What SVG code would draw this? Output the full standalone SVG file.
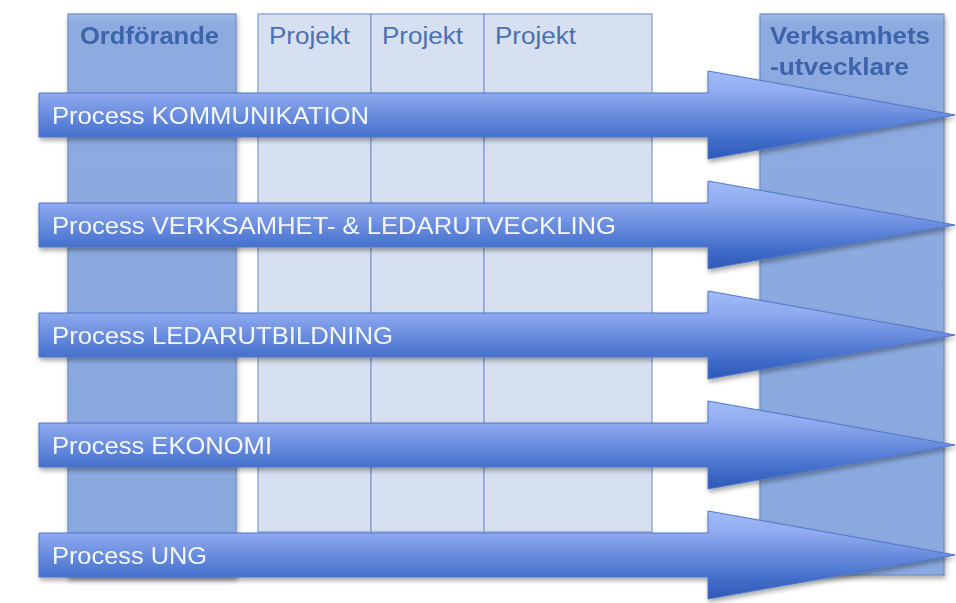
<svg xmlns="http://www.w3.org/2000/svg" width="956" height="603" viewBox="0 0 956 603">
<defs>
<linearGradient id="arrowGrad" x1="0" y1="0" x2="0" y2="1">
<stop offset="0" stop-color="#a2bcf8"/>
<stop offset="0.25" stop-color="#8faaf0"/>
<stop offset="0.75" stop-color="#4570cc"/>
<stop offset="1" stop-color="#2c58b6"/>
</linearGradient>
<linearGradient id="colGrad" x1="0" y1="0" x2="0" y2="1">
<stop offset="0" stop-color="#9cb8e8"/>
<stop offset="0.02" stop-color="#8dabe0"/>
<stop offset="1" stop-color="#8aa9df"/>
</linearGradient>
<filter id="shadow" x="-10%" y="-10%" width="125%" height="125%">
<feGaussianBlur in="SourceAlpha" stdDeviation="2.5"/>
<feOffset dx="1" dy="3" result="b"/>
<feComponentTransfer><feFuncA type="linear" slope="0.35"/></feComponentTransfer>
<feMerge><feMergeNode/><feMergeNode in="SourceGraphic"/></feMerge>
</filter>
<style>
.role{fill:url(#colGrad);stroke:#6d8dc4;stroke-width:1.2}
.proj{fill:#d7e0f0;stroke:#7d99cc;stroke-width:1.2}
.roleText{font-family:"Liberation Sans",Arial,sans-serif;font-weight:bold;font-size:23px;fill:#3d64a8}
.projText{font-family:"Liberation Sans",Arial,sans-serif;font-size:23px;fill:#4a70b2}
.arrow{fill:url(#arrowGrad);stroke:#4f77c8;stroke-width:1}
.arrowText{font-family:"Liberation Sans",Arial,sans-serif;font-size:24px;fill:#f4f7ff}
</style>
</defs>
<rect x="0" y="0" width="956" height="603" fill="#ffffff"/>

<g id="col-ordforande" filter="url(#shadow)">
<rect class="role" x="68" y="14" width="168" height="563"/>
<text class="roleText" x="80" y="44" textLength="139" lengthAdjust="spacingAndGlyphs">Ordförande</text>
</g>
<g id="col-projekt1">
<rect class="proj" x="258" y="14" width="113" height="518"/>
<text class="projText" x="269" y="44" textLength="81" lengthAdjust="spacingAndGlyphs">Projekt</text>
</g>
<g id="col-projekt2">
<rect class="proj" x="371" y="14" width="113" height="518"/>
<text class="projText" x="382" y="44" textLength="81" lengthAdjust="spacingAndGlyphs">Projekt</text>
</g>
<g id="col-projekt3">
<rect class="proj" x="484" y="14" width="168" height="518"/>
<text class="projText" x="495" y="44" textLength="81" lengthAdjust="spacingAndGlyphs">Projekt</text>
</g>
<g id="col-verksamhet" filter="url(#shadow)">
<rect class="role" x="760" y="14" width="184" height="561"/>
<text class="roleText" x="770" y="44" textLength="160" lengthAdjust="spacingAndGlyphs">Verksamhets</text>
<text class="roleText" x="770" y="75" textLength="139" lengthAdjust="spacingAndGlyphs">-utvecklare</text>
</g>

<g id="connectors"></g>

<g id="process-kommunikation" filter="url(#shadow)">
<path class="arrow" d="M39,93 H708 V71 L955,115 L708,159 V137 H39 Z"/>
<text class="arrowText" x="52" y="124" textLength="317" lengthAdjust="spacingAndGlyphs">Process KOMMUNIKATION</text>
</g>
<g id="process-verksamhet" filter="url(#shadow)">
<path class="arrow" d="M39,203 H708 V181 L955,225 L708,269 V247 H39 Z"/>
<text class="arrowText" x="52" y="234" textLength="564" lengthAdjust="spacingAndGlyphs">Process VERKSAMHET- &amp; LEDARUTVECKLING</text>
</g>
<g id="process-ledarutbildning" filter="url(#shadow)">
<path class="arrow" d="M39,313 H708 V291 L955,335 L708,379 V357 H39 Z"/>
<text class="arrowText" x="52" y="344" textLength="341" lengthAdjust="spacingAndGlyphs">Process LEDARUTBILDNING</text>
</g>
<g id="process-ekonomi" filter="url(#shadow)">
<path class="arrow" d="M39,423 H708 V401 L955,445 L708,489 V467 H39 Z"/>
<text class="arrowText" x="52" y="454" textLength="220" lengthAdjust="spacingAndGlyphs">Process EKONOMI</text>
</g>
<g id="process-ung" filter="url(#shadow)">
<path class="arrow" d="M39,533 H708 V511 L955,555 L708,599 V577 H39 Z"/>
<text class="arrowText" x="52" y="564" textLength="155" lengthAdjust="spacingAndGlyphs">Process UNG</text>
</g>
</svg>
